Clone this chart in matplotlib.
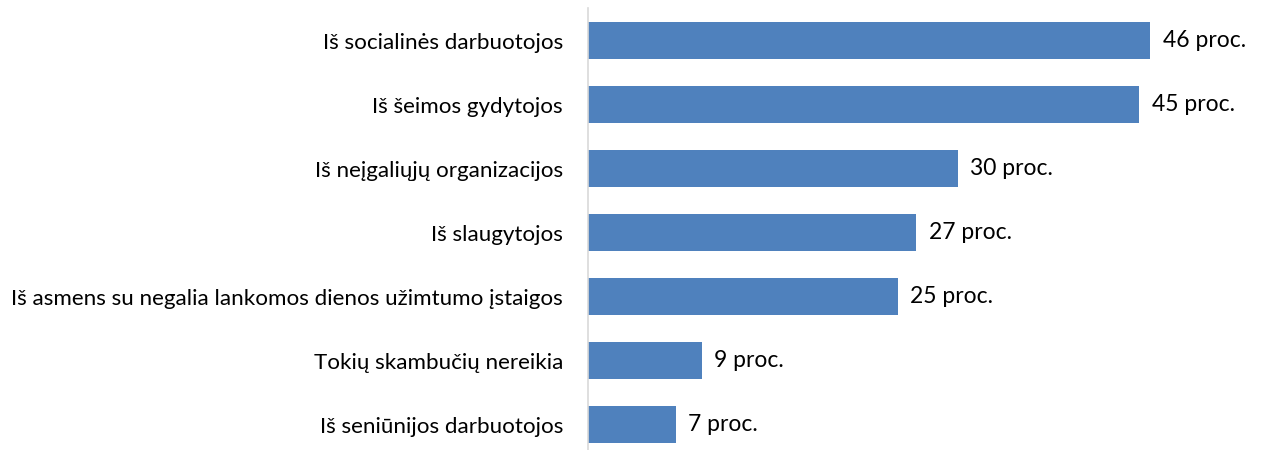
import matplotlib.pyplot as plt

categories = [
    "Iš socialinės darbuotojos",
    "Iš šeimos gydytojos",
    "Iš neįgaliųjų organizacijos",
    "Iš slaugytojos",
    "Iš asmens su negalia lankomos dienos užimtumo įstaigos",
    "Tokių skambučių nereikia",
    "Iš seniūnijos darbuotojos",
]
values = [45.9, 45.0, 30.2, 26.8, 25.3, 9.3, 7.2]
labels = ["46 proc.", "45 proc.", "30 proc.", "27 proc.", "25 proc.", "9 proc.", "7 proc."]

plt.rcParams['font.family'] = ['Lato', 'DejaVu Sans']

fig = plt.figure(figsize=(12.62, 4.5), dpi=100)
ax = fig.add_axes([588 / 1262, 0.0, 1 - 588 / 1262, 1 - 8 / 450])

pos = list(range(len(categories)))
ax.barh(pos, values, height=0.58, color='#4F81BD')
for p, v, lab in zip(pos, values, labels):
    ax.text(v + 1.0, p, lab, va='center', ha='left', fontsize=16.5, color='black')

ax.set_xlim(0, (1262 - 588) / 12.25)
ax.set_ylim(6.398, -0.508)
ax.set_yticks(pos)
ax.set_yticklabels(categories, fontsize=16.1)
ax.tick_params(axis='y', length=0, pad=18)
ax.set_xticks([])
for s in ['top', 'right', 'bottom']:
    ax.spines[s].set_visible(False)
ax.spines['left'].set_color('#D9D9D9')
ax.spines['left'].set_linewidth(1.2)

fig.savefig('out.png', dpi=100)
